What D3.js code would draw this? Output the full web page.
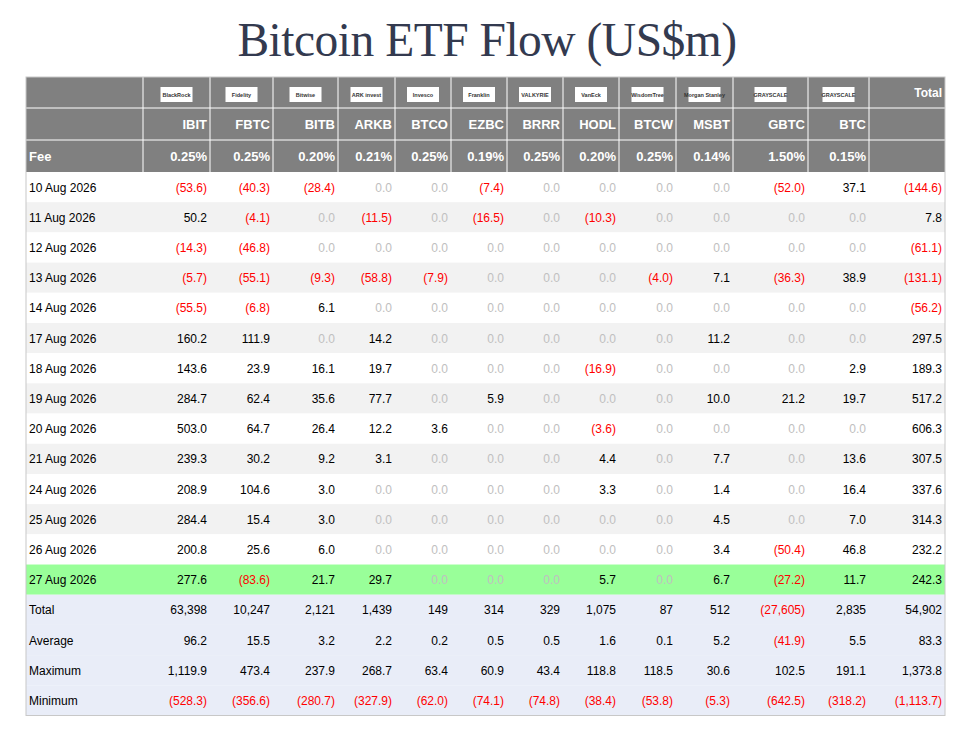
<!DOCTYPE html>
<html><head><meta charset="utf-8">
<script src="https://cdn.jsdelivr.net/npm/d3@7"></script>
<style>body{margin:0;background:#fff}</style>
</head><body>
<svg id="c" width="965" height="737"></svg>
<script>
// tickers, issuers and fees
const tickers = ["IBIT","FBTC","BITB","ARKB","BTCO","EZBC","BRRR","HODL","BTCW","MSBT","GBTC","BTC"];
const issuers = ["BlackRock","Fidelity","Bitwise","ARK invest","Invesco","Franklin","VALKYRIE","VanEck","WisdomTree","Morgan Stanley","GRAYSCALE","GRAYSCALE"];
const fees = ["0.25%","0.25%","0.20%","0.21%","0.25%","0.19%","0.25%","0.20%","0.25%","0.14%","1.50%","0.15%"];
const dates = ["10 Aug 2026","11 Aug 2026","12 Aug 2026","13 Aug 2026","14 Aug 2026","17 Aug 2026","18 Aug 2026","19 Aug 2026","20 Aug 2026","21 Aug 2026","24 Aug 2026","25 Aug 2026","26 Aug 2026","27 Aug 2026"];
// daily flows, last value = total
const flows = [
 [-53.6,-40.3,-28.4,0,0,-7.4,0,0,0,0,-52.0,37.1,-144.6],
 [50.2,-4.1,0,-11.5,0,-16.5,0,-10.3,0,0,0,0,7.8],
 [-14.3,-46.8,0,0,0,0,0,0,0,0,0,0,-61.1],
 [-5.7,-55.1,-9.3,-58.8,-7.9,0,0,0,-4.0,7.1,-36.3,38.9,-131.1],
 [-55.5,-6.8,6.1,0,0,0,0,0,0,0,0,0,-56.2],
 [160.2,111.9,0,14.2,0,0,0,0,0,11.2,0,0,297.5],
 [143.6,23.9,16.1,19.7,0,0,0,-16.9,0,0,0,2.9,189.3],
 [284.7,62.4,35.6,77.7,0,5.9,0,0,0,10.0,21.2,19.7,517.2],
 [503.0,64.7,26.4,12.2,3.6,0,0,-3.6,0,0,0,0,606.3],
 [239.3,30.2,9.2,3.1,0,0,0,4.4,0,7.7,0,13.6,307.5],
 [208.9,104.6,3.0,0,0,0,0,3.3,0,1.4,0,16.4,337.6],
 [284.4,15.4,3.0,0,0,0,0,0,0,4.5,0,7.0,314.3],
 [200.8,25.6,6.0,0,0,0,0,0,0,3.4,-50.4,46.8,232.2],
 [277.6,-83.6,21.7,29.7,0,0,0,5.7,0,6.7,-27.2,11.7,242.3]
];
const summaryLabels = ["Total","Average","Maximum","Minimum"];
const totalRow = [63398,10247,2121,1439,149,314,329,1075,87,512,-27605,2835,54902];
const averageRow = [96.2,15.5,3.2,2.2,0.2,0.5,0.5,1.6,0.1,5.2,-41.9,5.5,83.3];
const maxRow = [1119.9,473.4,237.9,268.7,63.4,60.9,43.4,118.8,118.5,30.6,102.5,191.1,1373.8];
const minRow = [-528.3,-356.6,-280.7,-327.9,-62.0,-74.1,-74.8,-38.4,-53.8,-5.3,-642.5,-318.2,-1113.7];
const highlightDate = "27 Aug 2026";

// layout
const colEdges = [26,143,210,273,338,395,451,507,563,619,676,733,808,869,945];
const svg = d3.select("#c");
const font = "'Liberation Sans', Arial, sans-serif";

svg.append("text").attr("x",487).attr("y",56).attr("text-anchor","middle")
  .attr("font-family","'Liberation Serif', 'Times New Roman', serif").attr("font-size",47.5)
  .attr("letter-spacing",-0.5).attr("fill","#333a4f").text("Bitcoin ETF Flow (US$m)");

const allRows = dates.map((d,i)=>({label:d,vals:flows[i],kind:"day"}))
  .concat([totalRow,averageRow,maxRow,minRow].map((v,i)=>({label:summaryLabels[i],vals:v,kind:i==0?"total":"sum"})));

const y = d3.scaleBand().domain(d3.range(allRows.length)).range([172,715.5]);
const left = colEdges[0], right = colEdges[colEdges.length-1];

// header
const hdr = [[77,108],[108,140],[140,172]];
svg.append("rect").attr("x",left).attr("y",77).attr("width",right-left).attr("height",95).attr("fill","#808080");
hdr.slice(1).forEach(h=>svg.append("line").attr("x1",left).attr("x2",right).attr("y1",h[0]).attr("y2",h[0]).attr("stroke","#fff"));
colEdges.slice(1,-1).forEach(x=>svg.append("line").attr("x1",x).attr("x2",x).attr("y1",77).attr("y2",172).attr("stroke","#fff"));

tickers.forEach((t,i)=>{
  const x0=colEdges[i+1], x1=colEdges[i+2], cx=(x0+x1)/2;
  svg.append("rect").attr("x",cx-16).attr("y",87).attr("width",32).attr("height",15).attr("fill","#fff");
  svg.append("text").attr("x",cx).attr("y",97).attr("text-anchor","middle").attr("font-family",font)
    .attr("font-size",5.5).attr("font-weight","bold").attr("fill","#333").text(issuers[i]);
  svg.append("text").attr("x",x1-3).attr("y",129).attr("text-anchor","end").attr("font-family",font)
    .attr("font-size",13).attr("font-weight","bold").attr("fill","#fff").text(t);
  svg.append("text").attr("x",x1-3).attr("y",161).attr("text-anchor","end").attr("font-family",font)
    .attr("font-size",13).attr("font-weight","bold").attr("fill","#fff").text(fees[i]);
});
svg.append("text").attr("x",right-3).attr("y",97).attr("text-anchor","end").attr("font-family",font)
  .attr("font-size",12).attr("font-weight","bold").attr("fill","#fff").text("Total");
svg.append("text").attr("x",left+3).attr("y",161).attr("font-family",font)
  .attr("font-size",13).attr("font-weight","bold").attr("fill","#fff").text("Fee");

// body rows
const fmt1 = d3.format(",.1f"), fmt0 = d3.format(",.0f");
const g = svg.selectAll("g.row").data(allRows).enter().append("g").attr("class","row")
  .attr("transform",(d,i)=>`translate(0,${y(i)})`);
g.append("rect").attr("x",left).attr("width",right-left).attr("height",y.bandwidth())
  .attr("fill",(d,i)=>d.label===highlightDate?"#99ff99":d.kind!=="day"?"#e9edf8":(i%2?"#f2f2f2":"#fff"));
g.append("text").attr("x",left+3).attr("y",y.bandwidth()/2+4.5).attr("font-family",font).attr("font-size",12)
  .attr("fill","#000").text(d=>d.label);
g.each(function(d){
  d3.select(this).selectAll("text.v").data(d.vals).enter().append("text").attr("class","v")
    .attr("x",(v,j)=>colEdges[j+2]-3).attr("y",y.bandwidth()/2+4.5).attr("text-anchor","end")
    .attr("font-family",font).attr("font-size",12)
    .attr("fill",v=>v<0?"#ff0000":(v===0&&d.kind==="day")?"#c0c0c0":"#000")
    .text(v=>{const s=(d.kind==="total"?fmt0:fmt1)(Math.abs(v));return v<0?`(${s})`:s;});
});
svg.append("rect").attr("x",left).attr("y",77).attr("width",right-left).attr("height",715.5-77)
  .attr("fill","none").attr("stroke","#c8c8c8");
</script>
</body></html>
